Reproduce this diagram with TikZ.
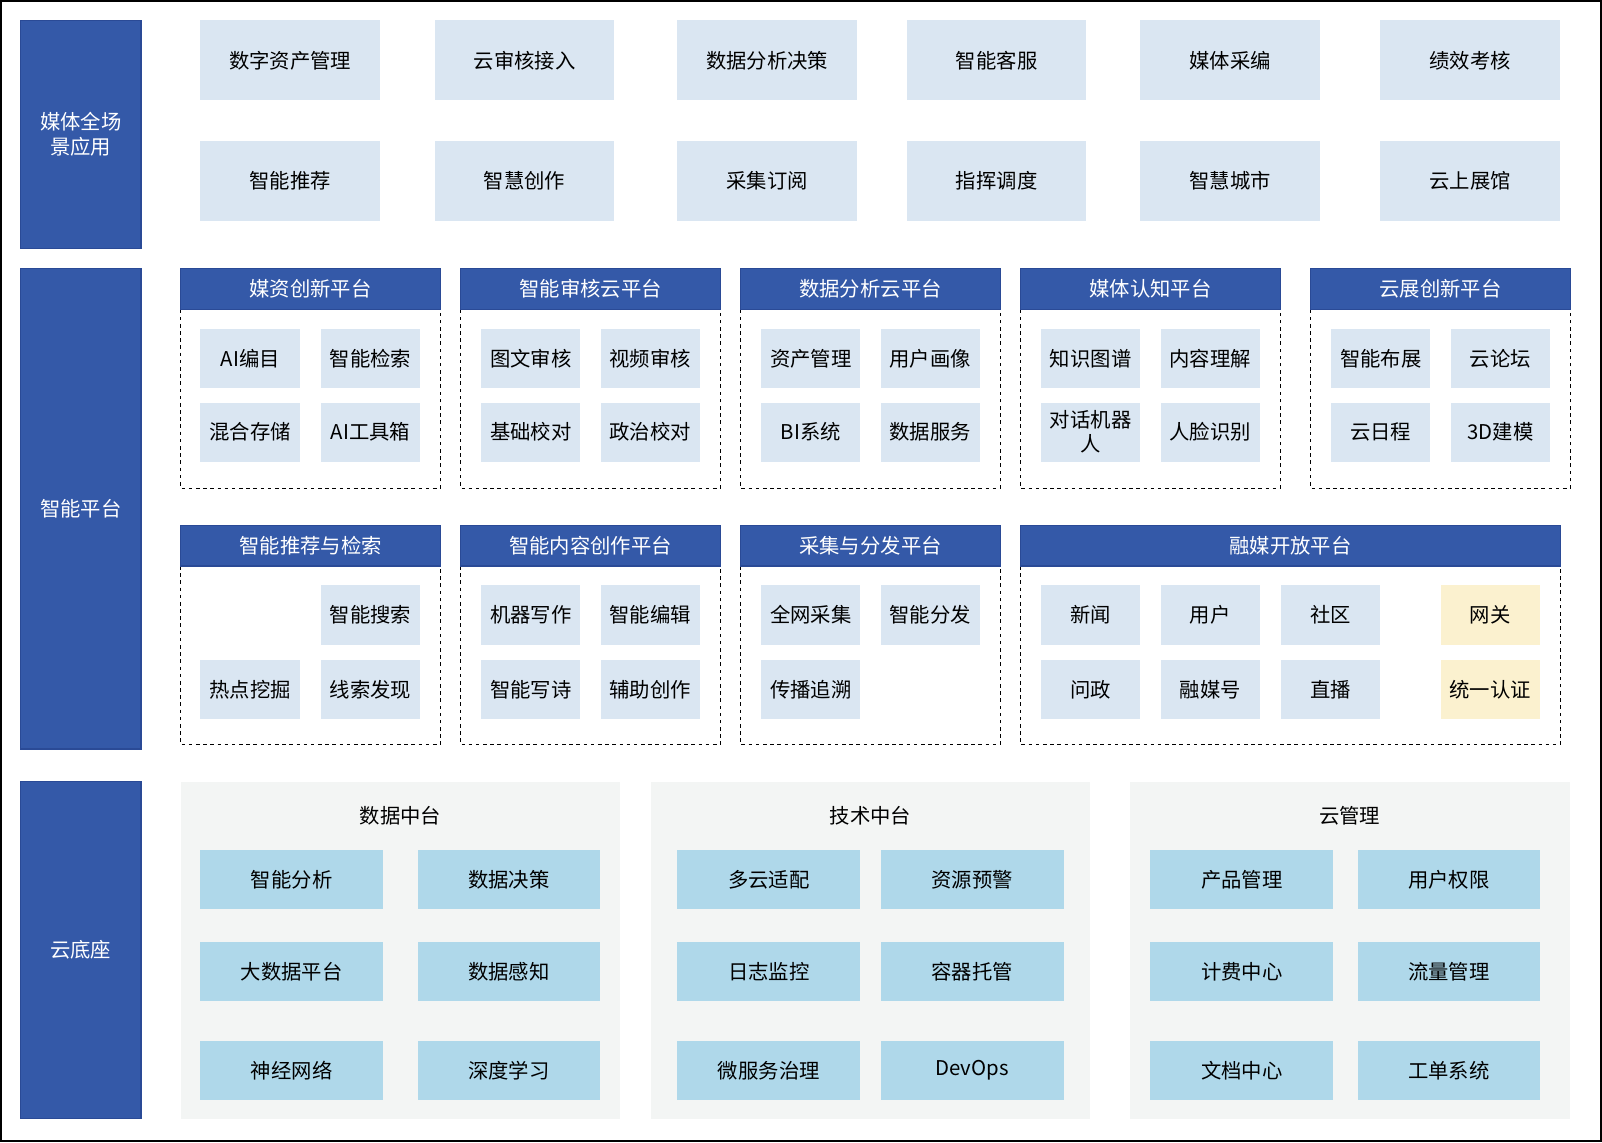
\documentclass[tikz,border=0pt]{standalone}
\usepackage{fontspec}
\setmainfont{Noto Sans CJK SC}
\usetikzlibrary{positioning}
\definecolor{navy}{HTML}{3459A8}
\definecolor{navyline}{HTML}{2A4A96}
\definecolor{paleblue}{HTML}{DAE6F2}
\definecolor{skyblue}{HTML}{AFD8EA}
\definecolor{paleyellow}{HTML}{FBF1CF}
\definecolor{palegrey}{HTML}{F3F5F4}
\tikzset{%
    side/.style={fill=navy, draw=navyline, line width=1pt, text=white, align=center, font=\fontsize{17}{21}\selectfont},
    tile/.style={fill=paleblue, draw=none, align=center, font=\fontsize{17}{20}\selectfont},
    gate/.style={fill=paleyellow, draw=none, font=\fontsize{17}{20}\selectfont},
    base/.style={fill=skyblue, draw=none, font=\fontsize{17}{20}\selectfont},
    head/.style={fill=navy, draw=navyline, line width=1pt, text=white, font=\fontsize{17}{20}\selectfont},
    frame/.style={draw=black, dashed, line width=0.9pt, fill=none},
    group/.style={fill=palegrey, draw=none}
  }
% box from (x1,y1) to (x2,y2), in pixels
\newcommand{\bx}[7]{\node[#6, inner sep=0pt, minimum width={(#3-#1)*0.03cm}, minimum height={(#4-#2)*0.03cm}] (#5) at ({(#1+#3)/2},{(#2+#4)/2}) {#7};}

\begin{document}
\begin{tikzpicture}[x=0.03cm, y=-0.03cm]
      \useasboundingbox (0,0) rectangle (1568,1118);
      \draw[line width=1.5pt] (1,1) rectangle (1567,1117);

      % left column
      \bx{20}{20}{138}{243}{apps}{side}{媒体全场\\景应用}
      \bx{20}{263}{138}{733}{plat}{side}{智能平台}
      \bx{20}{765}{138}{1095}{cloud}{side}{云底座}

      % applications
      \foreach \xa/\xb/\n/\ta/\tb in {196/372/1/数字资产管理/智能推荐, 426/601/2/云审核接入/智慧创作,
          663/839/3/数据分析决策/采集订阅, 888/1063/4/智能客服/指挥调度,
          1116/1292/5/媒体采编/智慧城市, 1351/1527/6/绩效考核/云上展馆} {
        \bx{\xa}{20}{\xb}{98}{appa\n}{tile}{\ta}
        \bx{\xa}{138}{\xb}{216}{appb\n}{tile}{\tb}
      }

      % platforms, first row
      \foreach \xa/\xb/\n/\h in {177/431/1/媒资创新平台, 451/705/2/智能审核云平台, 725/979/3/数据分析云平台,
          999/1253/4/媒体认知平台, 1283/1537/5/云展创新平台} {
        \draw[frame] (\xa,303) rectangle (\xb,478);
        \bx{\xa}{263}{\xb}{303}{hda\n}{head}{\h}
      }
      \bx{196}{322}{294}{380}{aicat}{tile}{AI编目}
      \bx{314}{322}{411}{380}{search}{tile}{智能检索}
      \bx{196}{394}{294}{452}{store}{tile}{混合存储}
      \bx{314}{394}{411}{452}{aitool}{tile}{AI工具箱}
      \bx{471}{322}{568}{380}{imgrev}{tile}{图文审核}
      \bx{588}{322}{685}{380}{vidrev}{tile}{视频审核}
      \bx{471}{394}{568}{452}{basechk}{tile}{基础校对}
      \bx{588}{394}{685}{452}{polchk}{tile}{政治校对}
      \bx{745}{322}{842}{380}{asset}{tile}{资产管理}
      \bx{862}{322}{959}{380}{persona}{tile}{用户画像}
      \bx{745}{394}{842}{452}{bi}{tile}{BI系统}
      \bx{862}{394}{959}{452}{datasvc}{tile}{数据服务}
      \bx{1019}{322}{1116}{380}{kgraph}{tile}{知识图谱}
      \bx{1136}{322}{1233}{380}{content}{tile}{内容理解}
      \bx{1019}{394}{1116}{452}{chatbot}{tile}{对话机器\\人}
      \bx{1136}{394}{1233}{452}{face}{tile}{人脸识别}
      \bx{1303}{322}{1400}{380}{layout}{tile}{智能布展}
      \bx{1420}{322}{1517}{380}{forum}{tile}{云论坛}
      \bx{1303}{394}{1400}{452}{agenda}{tile}{云日程}
      \bx{1420}{394}{1517}{452}{model}{tile}{3D建模}

      % platforms, second row
      \foreach \xa/\xb/\n/\h in {177/431/1/智能推荐与检索, 451/705/2/智能内容创作平台,
          725/979/3/采集与分发平台, 999/1527/4/融媒开放平台} {
        \draw[frame] (\xa,554) rectangle (\xb,729);
        \bx{\xa}{514}{\xb}{554}{hdb\n}{head}{\h}
      }
      \bx{314}{573}{411}{631}{smartsrch}{tile}{智能搜索}
      \bx{196}{646}{294}{704}{hotspot}{tile}{热点挖掘}
      \bx{314}{646}{411}{704}{clue}{tile}{线索发现}
      \bx{471}{573}{568}{631}{robowrite}{tile}{机器写作}
      \bx{588}{573}{685}{631}{smartedit}{tile}{智能编辑}
      \bx{471}{646}{568}{704}{poem}{tile}{智能写诗}
      \bx{588}{646}{685}{704}{assist}{tile}{辅助创作}
      \bx{745}{573}{842}{631}{collect}{tile}{全网采集}
      \bx{862}{573}{959}{631}{dispatch}{tile}{智能分发}
      \bx{745}{646}{842}{704}{trace}{tile}{传播追溯}
      \bx{1019}{573}{1116}{631}{news}{tile}{新闻}
      \bx{1136}{573}{1233}{631}{user}{tile}{用户}
      \bx{1254}{573}{1351}{631}{community}{tile}{社区}
      \bx{1410}{573}{1507}{631}{gateway}{gate}{网关}
      \bx{1019}{646}{1116}{704}{inquiry}{tile}{问政}
      \bx{1136}{646}{1233}{704}{account}{tile}{融媒号}
      \bx{1254}{646}{1351}{704}{live}{tile}{直播}
      \bx{1410}{646}{1507}{704}{sso}{gate}{统一认证}

      % cloud base
      \bx{177}{765}{607}{1095}{gdata}{group}{}
      \bx{637}{765}{1067}{1095}{gtech}{group}{}
      \bx{1106}{765}{1537}{1095}{gmgmt}{group}{}
      \node[font=\fontsize{17}{20}\selectfont] (tdata) at (392,798) {数据中台};
      \node[font=\fontsize{17}{20}\selectfont] (ttech) at (852,798) {技术中台};
      \node[font=\fontsize{17}{20}\selectfont] (tmgmt) at (1321,798) {云管理};
      \foreach \xa/\xb/\xc/\xd/\n/\ra/\rb/\rc/\rd/\re/\rf in {
          196/375/409/587/d/智能分析/数据决策/大数据平台/数据感知/神经网络/深度学习,
          663/842/862/1041/t/多云适配/资源预警/日志监控/容器托管/微服务治理/DevOps,
          1126/1305/1329/1507/m/产品管理/用户权限/计费中心/流量管理/文档中心/工单系统} {
        \bx{\xa}{832}{\xb}{890}{\n a}{base}{\ra}
        \bx{\xc}{832}{\xd}{890}{\n b}{base}{\rb}
        \bx{\xa}{922}{\xb}{980}{\n c}{base}{\rc}
        \bx{\xc}{922}{\xd}{980}{\n d}{base}{\rd}
        \bx{\xa}{1019}{\xb}{1077}{\n e}{base}{\re}
        \bx{\xc}{1019}{\xd}{1077}{\n f}{base}{\rf}
      }
\end{tikzpicture}
\end{document}
